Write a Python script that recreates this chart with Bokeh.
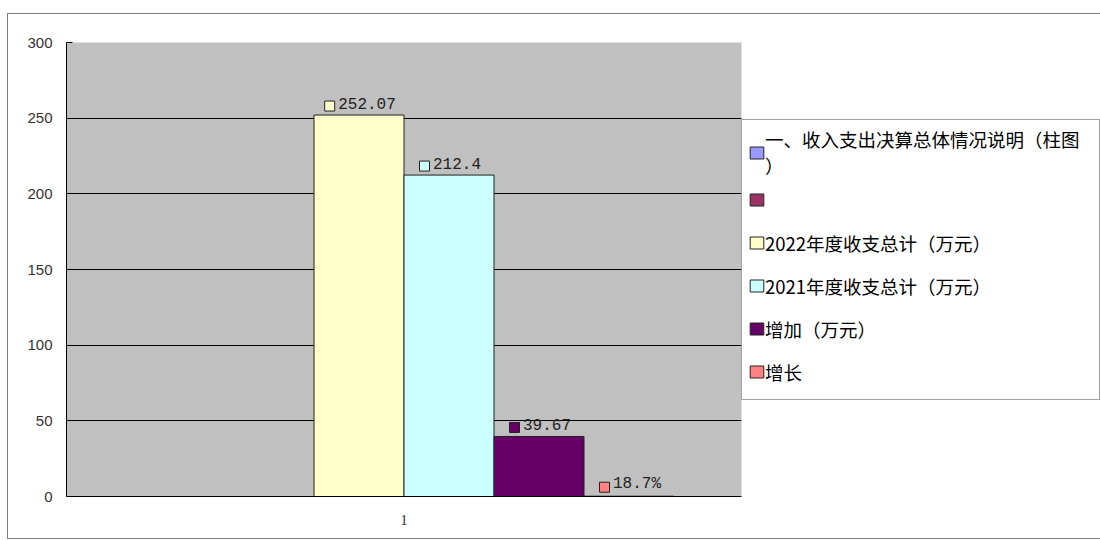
from bokeh.plotting import figure
from bokeh.models import Range1d, FixedTicker, Legend, LegendItem, ColumnDataSource
from bokeh.core.properties import value
from bokeh.embed import file_html
from bokeh.resources import INLINE

# ---- data ----
categories = ["1"]
series_names = [
    "一、收入支出决算总体情况说明（柱图\n）",
    " ",
    "2022年度收支总计（万元）",
    "2021年度收支总计（万元）",
    "增加（万元）",
    "增长",
]
series_values = [0, 0, 252.07, 212.4, 39.67, 0.187]
series_colors = ["#9999FF", "#993366", "#FFFFCC", "#CCFFFF", "#660066", "#FF8080"]
label_texts = [None, None, "252.07", "212.4", "39.67", "18.7%"]
y_ticks = [0, 50, 100, 150, 200, 250, 300]

# ---- layout constants ----
FRAME_W = 675.0
FRAME_H = 454.0
Y_MAX = 300
BAR_W = 90.0 / FRAME_W
N = len(series_names)
CHAR_W = 9.6  # px per char of the label font (Liberation Mono 16px)

p = figure(
    frame_width=int(FRAME_W), frame_height=int(FRAME_H),
    x_range=Range1d(0, 1), y_range=Range1d(0, Y_MAX),
    output_backend="svg", toolbar_location=None,
    min_border_left=58, min_border_right=0,
    min_border_top=28, min_border_bottom=42,
)
p.styles = {"border": "1px solid #7f7f7f", "margin-left": "7px", "margin-top": "13px"}
p.background_fill_color = "#C0C0C0"
p.border_fill_color = "white"
p.outline_line_color = None

centers = [0.5 + (i - (N - 1) / 2.0) * BAR_W for i in range(N)]

items = []
for i in range(N):
    src = ColumnDataSource(dict(x=[centers[i]], top=[series_values[i]]))
    r = p.vbar(x="x", top="top", bottom=0, width=BAR_W, source=src,
               fill_color=series_colors[i], line_color="#222222", line_width=1)
    items.append(LegendItem(label=series_names[i], renderers=[r]))

# data labels
lx, ly, lt, sqx, sqy, sqc = [], [], [], [], [], []
for i in range(N):
    if label_texts[i] is None:
        continue
    w = len(label_texts[i]) * CHAR_W
    lx.append(centers[i])
    ly.append(series_values[i])
    lt.append(label_texts[i])
    sqx.append(centers[i] + (-(w / 2.0) - 0.5) / FRAME_W)
    sqy.append(series_values[i] + 9.0 * Y_MAX / FRAME_H)
    sqc.append(series_colors[i])

lab_src = ColumnDataSource(dict(x=lx, y=ly, t=lt))
p.text(x="x", y="y", text="t", source=lab_src, x_offset=8, y_offset=-12,
       text_align="center", text_baseline="alphabetic",
       text_font=value("Liberation Mono"), text_font_size="16px", text_color="#222222")
sq_src = ColumnDataSource(dict(x=sqx, y=sqy, c=sqc))
p.scatter(x="x", y="y", source=sq_src, marker="square", size=10,
          fill_color="c", line_color="#222222", line_width=1)

# axes
p.yaxis.ticker = FixedTicker(ticks=y_ticks)
p.yaxis.axis_line_color = "black"
p.yaxis.major_tick_in = 6
p.yaxis.major_tick_out = 0
p.yaxis.minor_tick_line_color = None
p.yaxis.major_tick_line_color = "black"
p.yaxis.major_label_standoff = 14
p.yaxis.major_label_text_font = "Liberation Sans"
p.yaxis.major_label_text_font_size = "15px"
p.yaxis.major_label_text_color = "#333333"

p.xaxis.ticker = FixedTicker(ticks=[0.5])
p.xaxis.major_label_overrides = {0.5: categories[0]}
p.xaxis.axis_line_color = "black"
p.xaxis.major_tick_line_color = None
p.xaxis.minor_tick_line_color = None
p.xaxis.major_label_standoff = 12
p.xaxis.major_label_text_font = "Liberation Serif"
p.xaxis.major_label_text_font_size = "15px"
p.xaxis.major_label_text_color = "#333333"

p.xgrid.grid_line_color = None
p.ygrid.ticker = FixedTicker(ticks=y_ticks[1:-1])
p.ygrid.grid_line_color = "black"
p.ygrid.grid_line_width = 1

legend = Legend(items=items, location=(0, 96), margin=0, padding=6,
                spacing=0, glyph_width=17, glyph_height=15, label_standoff=0,
                label_width=328, label_height=43,
                label_text_font="Noto Sans CJK SC", label_text_font_size="18.5px",
                label_text_color="#000000",
                border_line_color="#444444", border_line_width=1,
                background_fill_color="white", background_fill_alpha=1)
p.add_layout(legend, "right")

open("out.html", "w").write(file_html(p, INLINE))
